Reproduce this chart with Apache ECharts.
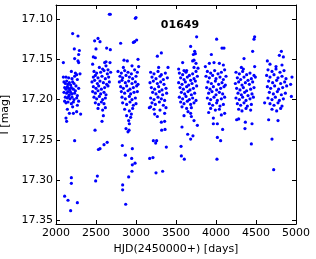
<!DOCTYPE html>
<html>
<head>
<meta charset="utf-8">
<script src="https://cdn.jsdelivr.net/npm/echarts@6/dist/echarts.min.js"></script>
<style>html,body{margin:0;padding:0;background:#fff;}#c{width:316px;height:259px;}</style>
</head>
<body>
<div id="c"></div>
<script>
const titleText = "01649";
const xName = "HJD(2450000+) [days]";
const yName = "I [mag]";
const yTicks = [17.10, 17.15, 17.20, 17.25, 17.30, 17.35];
const xTicks = [2000, 2500, 3000, 3500, 4000, 4500, 5000];

const season1 = [[2208,17.118],[2275,17.121],[2229,17.137],[2292,17.139],[2283,17.144],[2233,17.149],[2275,17.152],[2283,17.154],[2092,17.154],
[2192,17.165],[2242,17.167],[2258,17.169],[2300,17.168],[2092,17.172],[2125,17.172],[2158,17.173],[2200,17.174],[2233,17.171],[2267,17.175],
[2100,17.178],[2117,17.180],[2133,17.177],[2150,17.181],[2167,17.179],[2183,17.182],[2208,17.178],[2225,17.180],[2250,17.183],
[2108,17.185],[2125,17.187],[2142,17.184],[2158,17.186],[2175,17.188],[2192,17.185],[2217,17.187],[2242,17.189],[2283,17.186],
[2100,17.191],[2133,17.192],[2150,17.190],[2167,17.194],[2183,17.191],[2200,17.193],[2233,17.192],[2267,17.195],
[2117,17.197],[2142,17.198],[2158,17.196],[2175,17.199],[2200,17.197],[2225,17.200],[2258,17.198],
[2108,17.202],[2125,17.204],[2150,17.203],[2192,17.205],[2217,17.203],[2283,17.202],
[2142,17.212],[2208,17.209],[2267,17.207],[2258,17.215],[2308,17.218],[2167,17.217],[2217,17.217],[2125,17.223],[2133,17.227],
[2233,17.251],[2192,17.297],[2192,17.304],[2108,17.320],[2150,17.325],[2267,17.328],[2183,17.338]];

const season2 = [[2667,17.094],[2679,17.094],[2525,17.124],[2483,17.127],[2550,17.128],[2500,17.137],[2633,17.136],[2679,17.138],[2467,17.147],[2492,17.148],
[2608,17.154],[2625,17.153],[2675,17.154],[2458,17.156],
[2542,17.160],[2583,17.162],[2625,17.158],[2650,17.163],
[2475,17.165],[2508,17.167],[2558,17.166],[2600,17.164],[2642,17.168],[2683,17.166],
[2467,17.172],[2492,17.170],[2525,17.173],[2575,17.171],[2617,17.174],[2658,17.172],
[2450,17.178],[2483,17.176],[2517,17.180],[2550,17.177],[2592,17.179],[2633,17.181],[2667,17.178],
[2467,17.184],[2500,17.186],[2533,17.183],[2567,17.187],[2608,17.185],[2650,17.183],
[2458,17.190],[2492,17.192],[2525,17.189],[2558,17.193],[2600,17.191],[2625,17.194],
[2475,17.197],[2508,17.199],[2542,17.196],[2583,17.200],[2617,17.198],
[2492,17.204],[2533,17.206],[2567,17.203],[2600,17.205],
[2525,17.211],[2583,17.213],[2617,17.210],[2592,17.220],[2575,17.227],
[2488,17.238],[2640,17.253],[2550,17.261],[2600,17.256],[2530,17.262],[2517,17.295],[2496,17.301]];

const season3 = [[2992,17.099],[3000,17.098],[2967,17.129],[2983,17.128],[3008,17.126],[2808,17.130],
[2850,17.151],[2892,17.152],[3025,17.150],[2842,17.160],[2950,17.158],[3033,17.159],
[2775,17.165],[2817,17.167],[2858,17.164],[2900,17.166],[2942,17.168],[2983,17.163],[3017,17.166],
[2800,17.171],[2833,17.173],[2875,17.170],[2917,17.172],[2958,17.174],[3000,17.171],
[2792,17.178],[2825,17.176],[2867,17.179],[2908,17.177],[2950,17.180],[2992,17.178],[3025,17.181],
[2808,17.184],[2842,17.186],[2883,17.183],[2925,17.187],[2967,17.185],[3008,17.183],
[2817,17.190],[2858,17.192],[2900,17.189],[2933,17.193],[2975,17.191],[3017,17.190],
[2825,17.197],[2867,17.199],[2917,17.196],[2950,17.200],[2992,17.198],
[2833,17.204],[2883,17.206],[2925,17.203],[2967,17.207],[3000,17.205],
[2858,17.212],[2917,17.214],[2958,17.211],[2883,17.220],[2942,17.218],
[2933,17.222],[2908,17.226],[2917,17.230],
[2875,17.236],[2913,17.238],[2900,17.240],
[2829,17.257],[2867,17.269],[2954,17.261],[2946,17.273],[2988,17.279],[2954,17.281],[2950,17.289],
[2908,17.296],[2833,17.306],[2833,17.312],[2871,17.330]];

const season4 = [[3267,17.146],[3317,17.142],[3283,17.160],[3400,17.160],
[3183,17.166],[3225,17.168],[3275,17.165],[3317,17.169],[3367,17.167],
[3200,17.172],[3250,17.174],[3300,17.171],[3342,17.175],[3392,17.173],
[3175,17.179],[3217,17.177],[3267,17.180],[3308,17.178],[3350,17.181],
[3192,17.185],[3233,17.187],[3283,17.184],[3325,17.188],[3375,17.186],
[3208,17.191],[3250,17.193],[3292,17.190],[3333,17.194],[3383,17.192],
[3183,17.198],[3225,17.200],[3275,17.197],[3317,17.199],[3358,17.201],
[3200,17.204],[3242,17.206],[3292,17.203],[3342,17.207],
[3167,17.210],[3183,17.209],[3225,17.212],[3300,17.213],[3375,17.210],
[3233,17.218],[3267,17.221],[3358,17.217],[3317,17.228],[3358,17.227],
[3321,17.238],[3363,17.237],
[3171,17.273],[3212,17.272],[3217,17.251],[3246,17.254],[3258,17.251],[3379,17.259],[3333,17.289],[3250,17.291]];

const season5 = [[3758,17.122],[3683,17.134],[3733,17.140],[3717,17.144],[3742,17.143],
[3583,17.154],[3708,17.152],[3725,17.151],[3750,17.155],
[3533,17.162],[3600,17.164],[3633,17.164],[3725,17.160],[3775,17.161],
[3542,17.167],[3583,17.169],[3625,17.166],[3667,17.170],[3708,17.168],[3750,17.165],
[3558,17.173],[3600,17.175],[3642,17.172],[3683,17.176],[3725,17.174],[3767,17.171],
[3533,17.179],[3575,17.181],[3617,17.178],[3658,17.182],[3700,17.180],[3742,17.177],
[3550,17.185],[3592,17.187],[3633,17.184],[3675,17.188],[3717,17.186],[3758,17.183],
[3567,17.191],[3608,17.193],[3650,17.190],[3692,17.194],[3733,17.192],
[3542,17.197],[3583,17.199],[3625,17.196],[3667,17.200],[3708,17.198],[3750,17.201],
[3558,17.203],[3600,17.205],[3642,17.202],[3683,17.206],[3725,17.204],
[3575,17.209],[3633,17.211],[3692,17.210],
[3650,17.215],[3683,17.217],[3692,17.221],[3600,17.220],[3725,17.226],[3767,17.232],[3575,17.234],
[3646,17.243],[3712,17.245],[3683,17.249],
[3563,17.258],[3567,17.270],[3604,17.274]];

const season6 = [[4008,17.125],[4075,17.136],[4100,17.136],[3942,17.144],
[3867,17.159],[3917,17.155],[3975,17.154],[4042,17.155],[4092,17.157],
[3892,17.165],[3933,17.167],[3983,17.164],[4025,17.168],[4067,17.166],[4108,17.163],
[3875,17.171],[3917,17.173],[3958,17.170],[4000,17.174],[4050,17.172],[4092,17.175],[4125,17.171],
[3900,17.178],[3942,17.180],[3992,17.177],[4033,17.181],[4075,17.179],[4117,17.182],
[3883,17.185],[3925,17.187],[3967,17.184],[4008,17.188],[4058,17.186],[4100,17.184],
[3908,17.192],[3950,17.190],[4000,17.194],[4042,17.191],[4083,17.193],
[3892,17.198],[3933,17.200],[3975,17.197],[4017,17.201],[4067,17.199],[4108,17.197],
[3917,17.205],[3958,17.207],[4008,17.204],[4050,17.208],[4092,17.206],
[3933,17.211],[3992,17.213],[4042,17.212],
[3908,17.216],[3967,17.223],[4067,17.219],[4108,17.217],
[4017,17.230],[3967,17.230],[4083,17.237],
[4017,17.247],[4058,17.251],[4012,17.274]];

const season7 = [[4483,17.122],[4475,17.125],[4458,17.140],
[4350,17.149],[4317,17.160],[4342,17.162],[4483,17.159],
[4250,17.166],[4292,17.168],[4333,17.165],[4383,17.169],[4425,17.167],[4475,17.170],
[4267,17.173],[4308,17.175],[4350,17.172],[4400,17.176],[4442,17.174],[4492,17.172],
[4242,17.180],[4283,17.178],[4325,17.182],[4367,17.179],[4417,17.181],[4458,17.178],
[4258,17.186],[4300,17.188],[4342,17.185],[4383,17.189],[4433,17.187],[4475,17.185],
[4275,17.192],[4317,17.194],[4358,17.191],[4400,17.195],[4450,17.193],
[4250,17.198],[4292,17.200],[4333,17.197],[4375,17.201],[4425,17.199],[4467,17.197],
[4267,17.205],[4308,17.207],[4350,17.204],[4392,17.208],[4442,17.206],
[4283,17.212],[4325,17.214],[4375,17.211],[4433,17.213],
[4258,17.225],[4283,17.224],[4367,17.228],[4362,17.236],[4450,17.230],
[4442,17.255]];

const season8 = [[4817,17.140],[4792,17.145],[4842,17.147],
[4642,17.152],[4675,17.156],[4825,17.157],[4750,17.159],
[4650,17.163],[4700,17.165],[4750,17.162],[4800,17.166],[4850,17.164],
[4633,17.170],[4675,17.172],[4725,17.169],[4775,17.173],[4825,17.171],[4875,17.174],
[4658,17.177],[4708,17.179],[4758,17.176],[4808,17.180],[4858,17.178],
[4642,17.184],[4683,17.186],[4733,17.183],[4783,17.187],[4833,17.185],[4883,17.183],
[4667,17.191],[4717,17.193],[4767,17.190],[4817,17.194],[4867,17.192],
[4650,17.198],[4700,17.200],[4742,17.197],[4792,17.201],[4842,17.199],
[4675,17.205],[4725,17.207],[4775,17.204],[4825,17.208],
[4700,17.212],[4758,17.214],[4808,17.211],
[4608,17.204],[4950,17.172],[4933,17.181],[4942,17.196],
[4658,17.225],[4775,17.226],[4700,17.249],[4721,17.287]];

const allPoints = [].concat(season1, season2, season3, season4, season5, season6, season7, season8);

const FONT = "DejaVu Sans";
const chart = echarts.init(document.getElementById('c'), null, {renderer: 'canvas'});
const yMin = 17.0825, yMax = 17.3545;
const axisCommonLine = {show: true, onZero: false, lineStyle: {color: '#000', width: 1}};
chart.setOption({
  animation: false,
  backgroundColor: '#fff',
  title: {
    text: titleText, left: 175, top: 15, textAlign: 'center',
    textStyle: {fontFamily: FONT, fontWeight: 'bold', fontSize: 11, color: '#000'}
  },
  grid: {left: 56, right: 20, top: 5, bottom: 35, outerBoundsMode: 'none'},
  xAxis: [{
    type: 'value', min: 2000, max: 5000, interval: 500, position: 'bottom',
    name: xName, nameLocation: 'middle', nameGap: 16,
    nameTextStyle: {fontFamily: FONT, fontSize: 11, color: '#000'},
    axisLine: axisCommonLine,
    axisTick: {show: true, inside: true, length: 4, lineStyle: {color: '#000'}},
    axisLabel: {fontFamily: FONT, fontSize: 11, color: '#000', margin: 4,
      customValues: xTicks, showMinLabel: true, showMaxLabel: true,
      formatter: v => String(Math.round(v))},
    splitLine: {show: false}
  }, {
    type: 'value', min: 2000, max: 5000, interval: 500, position: 'top',
    axisLine: axisCommonLine,
    axisTick: {show: true, inside: true, length: 4, lineStyle: {color: '#000'}},
    axisLabel: {show: false}, splitLine: {show: false}
  }],
  yAxis: [{
    type: 'value', inverse: true, min: yMin, max: yMax, position: 'left',
    name: yName, nameLocation: 'middle', nameGap: 42, nameRotate: 90,
    nameTextStyle: {fontFamily: FONT, fontSize: 11, color: '#000'},
    axisLine: axisCommonLine,
    axisTick: {show: true, inside: true, length: 4, customValues: yTicks, lineStyle: {color: '#000'}},
    axisLabel: {fontFamily: FONT, fontSize: 11, color: '#000', margin: 3,
      customValues: yTicks, formatter: v => v.toFixed(2)},
    splitLine: {show: false}
  }, {
    type: 'value', inverse: true, min: yMin, max: yMax, position: 'right',
    axisLine: axisCommonLine,
    axisTick: {show: true, inside: true, length: 4, customValues: yTicks, lineStyle: {color: '#000'}},
    axisLabel: {show: false}, splitLine: {show: false}
  }],
  series: [{
    type: 'scatter', xAxisIndex: 0, yAxisIndex: 0,
    data: allPoints, symbol: 'circle', symbolSize: 3.2,
    itemStyle: {color: '#0000ff', opacity: 1},
    silent: true
  }]
});
</script>
</body>
</html>
